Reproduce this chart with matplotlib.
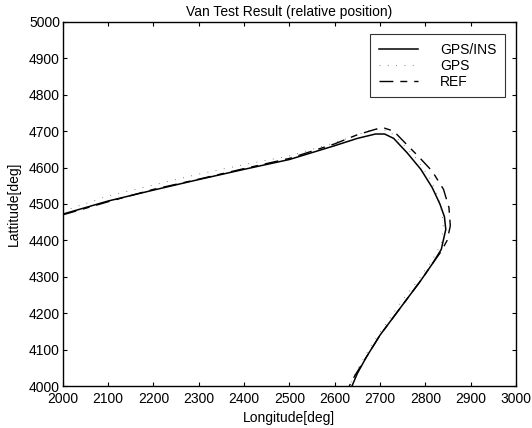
# van test trajectory: GPS/INS vs GPS vs reference
import numpy as np
import matplotlib
matplotlib.use('Agg')
import matplotlib.pyplot as plt

plt.rcParams['font.family'] = ['Liberation Sans', 'DejaVu Sans']
plt.rcParams['font.size'] = 10

# GPS/INS solution
ins_lon = [2000, 2100, 2200, 2300, 2400, 2500, 2600, 2650, 2690, 2710, 2730, 2760,
           2790, 2815, 2832, 2842, 2845, 2835, 2815, 2790, 2760, 2730, 2700, 2670, 2650, 2638]
ins_lat = [4472, 4508, 4538, 4567, 4595, 4622, 4660, 4680, 4692, 4692, 4680, 4640,
           4595, 4545, 4500, 4465, 4430, 4375, 4335, 4290, 4240, 4190, 4140, 4080, 4035, 4000]

# GPS only
gps_lon = [2000, 2100, 2200, 2300, 2400, 2500, 2600, 2650, 2690, 2720, 2750, 2780,
           2810, 2830, 2840, 2835, 2812, 2785, 2752, 2718, 2682, 2652, 2632]
gps_lat = [4480, 4522, 4552, 4582, 4608, 4632, 4668, 4690, 4708, 4700, 4665, 4625,
           4570, 4515, 4450, 4390, 4340, 4292, 4240, 4180, 4115, 4050, 4000]

# reference trajectory
ref_lon = [2000, 2100, 2200, 2300, 2400, 2500, 2600, 2650, 2690, 2710, 2730, 2755, 2785,
           2815, 2840, 2852, 2855, 2848, 2835, 2815, 2790, 2760, 2730, 2700, 2670, 2645, 2632]
ref_lat = [4470, 4506, 4540, 4568, 4597, 4625, 4665, 4690, 4705, 4708, 4700, 4668, 4630,
           4590, 4540, 4490, 4440, 4400, 4370, 4335, 4290, 4240, 4190, 4140, 4080, 4030, 4000]

fig = plt.figure(figsize=(5.32, 4.28), dpi=100)
ax = fig.add_axes([0.118, 0.098, 0.852, 0.851])

ax.plot(ins_lon, ins_lat, color='k', lw=1.1, label='GPS/INS')
ax.plot(gps_lon, gps_lat, color='0.35', lw=0.6, ls=(0, (1, 9)), label='GPS')
ax.plot(ref_lon, ref_lat, color='k', lw=1.0, ls=(0, (10, 5, 5, 5)), label='REF')

ax.set_xlim(2000, 3000)
ax.set_ylim(4000, 5000)
ax.set_xticks(np.arange(2000, 3001, 100))
ax.set_yticks(np.arange(4000, 5001, 100))
ax.tick_params(direction='in', top=True, right=True, length=3, width=0.8, pad=2)
ax.tick_params(axis='x', pad=4)
for s in ax.spines.values():
    s.set_linewidth(1.0)

ax.set_title('Van Test Result (relative position)', fontsize=10, pad=4)
ax.set_xlabel('Longitude[deg]', labelpad=4)
ax.set_ylabel('Lattitude[deg]', labelpad=6)

leg = ax.legend(loc='upper right', bbox_to_anchor=(0.99, 0.985), frameon=True,
                fancybox=False, edgecolor='k', handlelength=2.8, handletextpad=1.6,
                borderpad=0.6, labelspacing=0.15)
leg.get_frame().set_linewidth(0.8)

fig.savefig('out.png', dpi=100)
